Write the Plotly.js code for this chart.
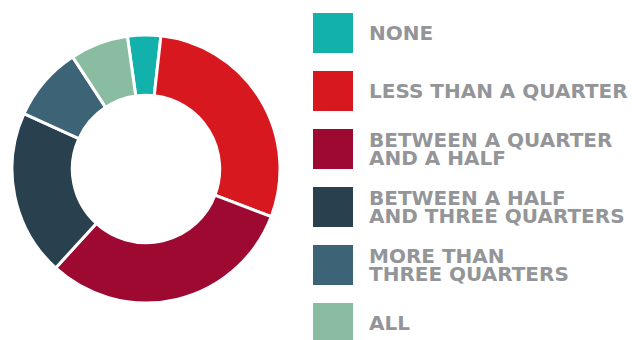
<!DOCTYPE html>
<html>
<head>
<meta charset="utf-8">
<script src="https://cdn.plot.ly/plotly-3.0.1.min.js"></script>
<style>html,body{margin:0;padding:0;background:#fff;}#chart{width:632px;height:340px;}</style>
</head>
<body>
<div id="chart"></div>
<script>
var categories = ["NONE", "LESS THAN A QUARTER", "BETWEEN A QUARTER AND A HALF", "BETWEEN A HALF AND THREE QUARTERS", "MORE THAN THREE QUARTERS", "ALL"];
var values = [4, 29, 31, 20, 9, 7];
var colors = ["#13b1ab", "#d7191f", "#9e0932", "#29404f", "#3c6476", "#89bca1"];
var legendLines = [
  ["NONE"],
  ["LESS THAN A QUARTER"],
  ["BETWEEN A QUARTER", "AND A HALF"],
  ["BETWEEN A HALF", "AND THREE QUARTERS"],
  ["MORE THAN", "THREE QUARTERS"],
  ["ALL"]
];

var W = 632, H = 340;
var cx = 146, cy = 169, R = 134;
function px(x){ return x / W; }
function py(y){ return 1 - y / H; }

var shapes = [], annotations = [];
var sqX = 313, sqSize = 40, rowTop = 13, rowStep = 58, textX = 367, lineStep = 18;
var legendFont = {family: "DejaVu Sans", size: 20, color: "#939598", weight: 700};
for (var i = 0; i < categories.length; i++) {
  var rowY = rowTop + i * rowStep;
  shapes.push({type: "rect", xref: "paper", yref: "paper",
    x0: px(sqX), x1: px(sqX + sqSize), y0: py(rowY + sqSize), y1: py(rowY),
    fillcolor: colors[i], line: {width: 0}});
  var lines = legendLines[i];
  var mid = rowY + sqSize / 2;
  for (var j = 0; j < lines.length; j++) {
    var yc = mid + (j - (lines.length - 1) / 2) * lineStep;
    annotations.push({xref: "paper", yref: "paper", x: px(textX), y: py(yc),
      xanchor: "left", yanchor: "middle", text: lines[j], showarrow: false,
      font: legendFont});
  }
}

var data = [{
  type: "pie",
  labels: categories,
  values: values,
  sort: false,
  direction: "clockwise",
  rotation: -8,
  hole: 0.55,
  textinfo: "none",
  hoverinfo: "label+percent",
  marker: {colors: colors, line: {color: "#ffffff", width: 3}},
  domain: {x: [px(cx - R), px(cx + R)], y: [py(cy + R), py(cy - R)]},
  showlegend: false
}];

var layout = {
  width: W, height: H,
  margin: {l: 0, r: 0, t: 0, b: 0},
  paper_bgcolor: "#ffffff",
  showlegend: false,
  shapes: shapes,
  annotations: annotations
};

Plotly.newPlot("chart", data, layout, {displayModeBar: false, staticPlot: true});
</script>
</body>
</html>
